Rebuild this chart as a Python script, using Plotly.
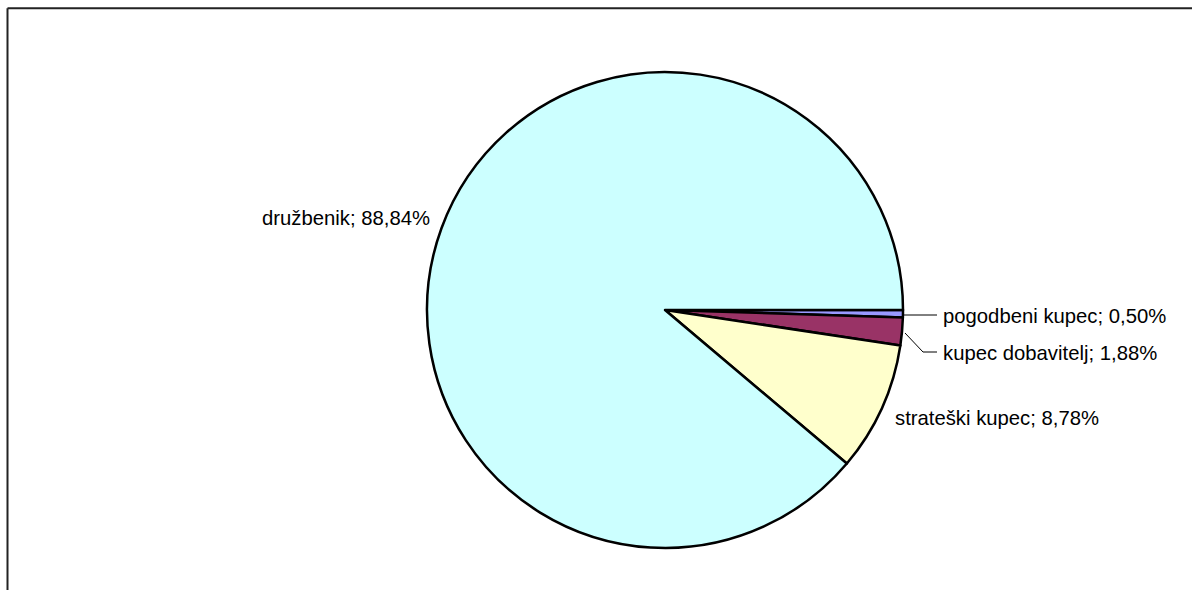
import plotly.graph_objects as go

categories = ["pogodbeni kupec", "kupec dobavitelj", "strateški kupec", "družbenik"]
values = [0.50, 1.88, 8.78, 88.84]
colors = ["#9999FF", "#993366", "#FFFFCC", "#CCFFFF"]

W, H = 1192, 590

def px(x):
    return x / W

def py(y):
    return 1 - y / H

labels_txt = [f"{c}; {v:.2f}%".replace(".", ",") for c, v in zip(categories, values)]

fig = go.Figure(go.Pie(
    labels=categories,
    values=values,
    sort=False,
    direction="clockwise",
    rotation=90,
    marker=dict(colors=colors, line=dict(color="black", width=2.5)),
    textinfo="none",
    hoverinfo="label+percent",
    showlegend=False,
    domain=dict(x=[px(427), px(903)], y=[py(548), py(72)]),
))

# label placements (x, y, anchor)
label_pos = [
    (941, 316, "left"),
    (941, 353, "left"),
    (893, 418, "left"),
    (432, 218, "right"),
]
annotations = []
for txt, (x, y, anc) in zip(labels_txt, label_pos):
    annotations.append(dict(
        x=px(x), y=py(y), xref="paper", yref="paper", text=txt,
        showarrow=False, xanchor=anc, yanchor="middle",
        font=dict(family="Liberation Sans, Arial", size=20.3, color="black"),
    ))

shapes = [
    # frame: top and left edges
    dict(type="line", xref="paper", yref="paper", x0=px(7.5), y0=py(8.3), x1=1.0, y1=py(8.3),
         line=dict(color="#222222", width=2)),
    dict(type="line", xref="paper", yref="paper", x0=px(7.5), y0=py(8.3), x1=px(7.5), y1=0.0,
         line=dict(color="#222222", width=2)),
    # leader lines
    dict(type="line", xref="paper", yref="paper", x0=px(904), y0=py(315), x1=px(937), y1=py(315),
         line=dict(color="black", width=1)),
    dict(type="path", xref="paper", yref="paper",
         path=f"M {px(905)},{py(333)} L {px(923)},{py(352)} L {px(937)},{py(352)}",
         line=dict(color="black", width=1)),
]

fig.update_layout(
    width=W, height=H,
    margin=dict(l=0, r=0, t=0, b=0),
    paper_bgcolor="white",
    plot_bgcolor="white",
    annotations=annotations,
    shapes=shapes,
)

fig.write_html("out.html")
